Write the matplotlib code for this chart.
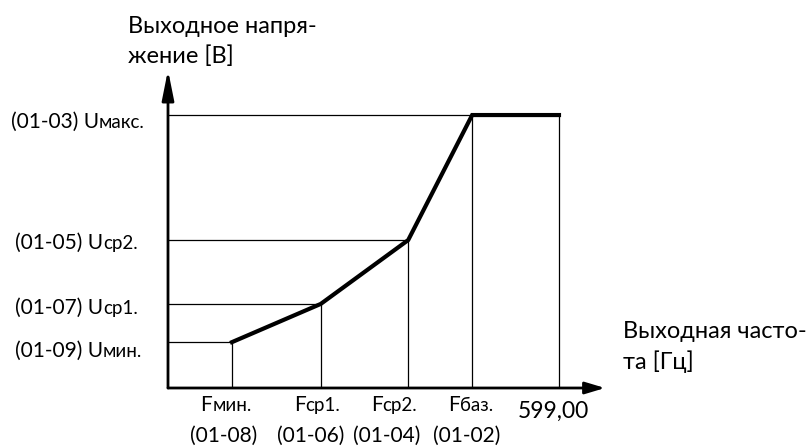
import matplotlib
matplotlib.use("Agg")
import matplotlib.pyplot as plt

plt.rcParams['font.family'] = ['Lato', 'DejaVu Sans']

# ---- data (schematic V/f curve) ----
freq_names = ["F", "F", "F", "F"]
freq_subs = ["мин.", "ср1.", "ср2.", "баз."]
freq_codes = ["(01-08)", "(01-06)", "(01-04)", "(01-02)"]
freq_values = [98, 234, 368, 466]          # Fмин, Fср1, Fср2, Fбаз
freq_max = 599.0
freq_max_label = "599,00"

volt_codes = ["(01-09) U", "(01-07) U", "(01-05) U", "(01-03) U"]
volt_subs = ["мин.", "ср1.", "ср2.", "макс."]
volt_values = [16.8, 30.8, 54.2, 100.0]    # Uмин, Uср1, Uср2, Uмакс

y_title = ["Выходное напря-", "жение [В]"]
x_title = ["Выходная часто-", "та [Гц]"]

W, H = 811, 446
fig = plt.figure(figsize=(W / 100, H / 100), dpi=100)
# axes: origin at pixel (168, 388), x-arrow tip at 605, y-arrow tip at 70
ax = fig.add_axes([168 / W, (H - 388) / H, (605 - 168) / W, (388 - 70) / H])
ax.set_xlim(0, 669.5)
ax.set_ylim(0, 116.5)
ax.axis('off')

# axes arrows
ax.annotate("", xy=(1, 0), xytext=(0, 0), xycoords='axes fraction',
            arrowprops=dict(arrowstyle="-|>,head_length=1.2,head_width=0.36",
                            lw=2.0, color='black', shrinkA=0, shrinkB=0))
ax.annotate("", xy=(0, 1), xytext=(0, 0), xycoords='axes fraction',
            arrowprops=dict(arrowstyle="-|>,head_length=1.8,head_width=0.36",
                            lw=2.0, color='black', shrinkA=0, shrinkB=0))

thin = dict(color='black', lw=0.9, solid_capstyle='butt')
# guide lines
for f, u in zip(freq_values, volt_values):
    ax.plot([0, f], [u, u], **thin)
    ax.plot([f, f], [0, u], **thin)
ax.plot([freq_max, freq_max], [0, volt_values[-1]], **thin)

# V/f curve
xs = list(freq_values) + [freq_max]
ys = list(volt_values) + [volt_values[-1]]
ax.plot(xs, ys, color='black', lw=3.0, solid_capstyle='projecting',
        solid_joinstyle='miter')

FS_T = 17
FS = 15
FS_SMALL = 13.5


def px(x, y):
    return (x / W, 1 - y / H)


for line, yb in zip(y_title, [33, 63]):
    fig.text(*px(128, yb), line, fontsize=FS_T, va='baseline', ha='left')
for line, yb in zip(x_title, [338, 369]):
    fig.text(*px(623, yb), line, fontsize=FS_T, va='baseline', ha='left')

fig.canvas.draw()
renderer = fig.canvas.get_renderer()


def compound(x, y, main, sub, ha='left'):
    """Draw main text followed by smaller sub text on same baseline.
    x,y in pixel coords (top-left origin), y = baseline."""
    t1 = fig.text(*px(x, y), main, fontsize=FS, va='baseline', ha='left')
    t2 = fig.text(*px(x, y), sub, fontsize=FS_SMALL, va='baseline', ha='left')
    w1 = t1.get_window_extent(renderer).width
    w2 = t2.get_window_extent(renderer).width
    if ha == 'center':
        x0 = x - (w1 + w2) / 2
    else:
        x0 = x
    t1.set_position(px(x0, y))
    t2.set_position(px(x0 + w1, y))


# left labels (baselines in pixels)
left_x = [15, 15, 15, 11]
left_base = [357, 314, 249, 128]
for code, sub, lx, ly in zip(volt_codes, volt_subs, left_x, left_base):
    compound(lx, ly, code, sub)

# bottom labels
name_cx = [226, 317, 394, 471]
code_cx = [224, 311, 387, 467]
for nm, sub, code, cx1, cx2 in zip(freq_names, freq_subs, freq_codes, name_cx, code_cx):
    compound(cx1, 411, nm, sub, ha='center')
    fig.text(*px(cx2, 442), code, fontsize=FS, va='baseline', ha='center')

fig.text(*px(553, 418), freq_max_label, fontsize=16.5, va='baseline', ha='center')

fig.savefig("out.png", dpi=100)
